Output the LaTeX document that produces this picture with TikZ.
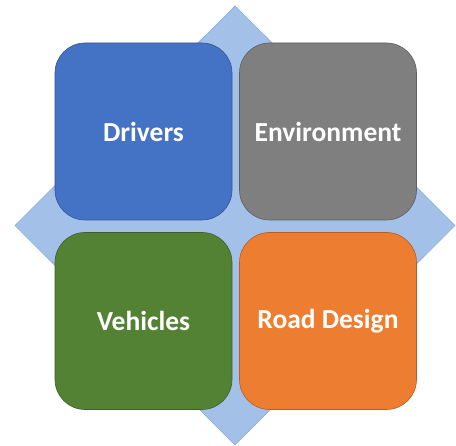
\documentclass[tikz,border=0pt]{standalone}
\usepackage{fontspec}
\setmainfont{Carlito}
\usetikzlibrary{positioning}
\definecolor{diamondfill}{HTML}{A3C1E8}
\definecolor{diamondline}{HTML}{86A9DA}
\definecolor{cblue}{HTML}{4472C4}
\definecolor{cgray}{HTML}{7F7F7F}
\definecolor{cgreen}{HTML}{548235}
\definecolor{corange}{HTML}{ED7D31}
\tikzset{
  x=1pt, y=1pt,
  tile/.style={draw=#1!75!black, fill=#1, line width=0.6pt, rounded corners=30pt,
    minimum width=177pt, minimum height=177pt, inner sep=0pt,
    text=white, font=\fontsize{27.5}{31}\selectfont\bfseries},
}
\begin{document}
\begin{tikzpicture}
\useasboundingbox (0,0) rectangle (456,446);
% background diamond
\filldraw[fill=diamondfill, draw=diamondline, line width=0.6pt]
  (235,440) -- (455,220.5) -- (235,1) -- (15,220.5) -- cycle;
% four tiles
\node[tile=cblue]   (drivers) at (143.5,314.5) {Drivers};
\node[tile=cgray]   (env)     at (328,314.5)   {Environment};
\node[tile=cgreen]  (veh)     at (143.5,125)   {Vehicles};
\node[tile=corange] (road)    at (328,125)     {Road Design};
\end{tikzpicture}
\end{document}
